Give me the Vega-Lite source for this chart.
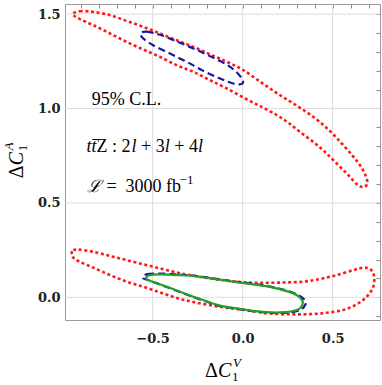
{
"$schema": "https://vega.github.io/schema/vega-lite/v6.json",
"width": 315, "height": 316,
"autosize": "none",
"padding": {"left": 65, "top": 4, "right": 2, "bottom": 65},
"config": {"view": {"stroke": "#9a9a9a", "strokeWidth": 1}, "font": "Liberation Serif",
"axis": {"domain": false, "gridColor": "#dcdcdc", "gridWidth": 1, "gridOpacity": 1, "tickColor": "#8c8c8c", "tickWidth": 1, "labelFont": "DejaVu Serif", "labelFontWeight": "bold", "labelFontSize": 13, "labelColor": "#222222"}},
"datasets": {
"gx": [{"v": -0.5}, {"v": 0}, {"v": 0.5}],
"gy": [{"v": 0}, {"v": 0.5}, {"v": 1}, {"v": 1.5}],
"c": [
{"s":"s1","k":"r1","i":1,"x":-0.944,"y":1.499},{"s":"s1","k":"r1","i":2,"x":-0.904,"y":1.515},{"s":"s1","k":"r1","i":3,"x":-0.830,"y":1.511},{"s":"s1","k":"r1","i":4,"x":-0.737,"y":1.494},{"s":"s1","k":"r1","i":5,"x":-0.644,"y":1.463},{"s":"s1","k":"r1","i":6,"x":-0.552,"y":1.432},{"s":"s1","k":"r1","i":7,"x":-0.459,"y":1.397},{"s":"s1","k":"r1","i":8,"x":-0.367,"y":1.361},{"s":"s1","k":"r1","i":9,"x":-0.274,"y":1.326},{"s":"s1","k":"r1","i":10,"x":-0.182,"y":1.287},{"s":"s1","k":"r1","i":11,"x":-0.089,"y":1.248},{"s":"s1","k":"r1","i":12,"x":0.000,"y":1.205},{"s":"s1","k":"r1","i":13,"x":0.100,"y":1.140},{"s":"s1","k":"r1","i":14,"x":0.200,"y":1.075},{"s":"s1","k":"r1","i":15,"x":0.300,"y":1.015},{"s":"s1","k":"r1","i":16,"x":0.400,"y":0.950},{"s":"s1","k":"r1","i":17,"x":0.480,"y":0.885},{"s":"s1","k":"r1","i":18,"x":0.550,"y":0.815},{"s":"s1","k":"r1","i":19,"x":0.610,"y":0.750},{"s":"s1","k":"r1","i":20,"x":0.655,"y":0.695},{"s":"s1","k":"r1","i":21,"x":0.683,"y":0.645},{"s":"s1","k":"r1","i":22,"x":0.693,"y":0.605},{"s":"s1","k":"r1","i":23,"x":0.675,"y":0.585},{"s":"s1","k":"r1","i":24,"x":0.640,"y":0.594},{"s":"s1","k":"r1","i":25,"x":0.587,"y":0.647},{"s":"s1","k":"r1","i":26,"x":0.522,"y":0.709},{"s":"s1","k":"r1","i":27,"x":0.457,"y":0.770},{"s":"s1","k":"r1","i":28,"x":0.392,"y":0.823},{"s":"s1","k":"r1","i":29,"x":0.318,"y":0.876},{"s":"s1","k":"r1","i":30,"x":0.253,"y":0.925},{"s":"s1","k":"r1","i":31,"x":0.189,"y":0.965},{"s":"s1","k":"r1","i":32,"x":0.106,"y":1.008},{"s":"s1","k":"r1","i":33,"x":0.013,"y":1.053},{"s":"s1","k":"r1","i":34,"x":-0.089,"y":1.106},{"s":"s1","k":"r1","i":35,"x":-0.182,"y":1.150},{"s":"s1","k":"r1","i":36,"x":-0.274,"y":1.194},{"s":"s1","k":"r1","i":37,"x":-0.367,"y":1.229},{"s":"s1","k":"r1","i":38,"x":-0.459,"y":1.273},{"s":"s1","k":"r1","i":39,"x":-0.552,"y":1.312},{"s":"s1","k":"r1","i":40,"x":-0.644,"y":1.352},{"s":"s1","k":"r1","i":41,"x":-0.737,"y":1.397},{"s":"s1","k":"r1","i":42,"x":-0.830,"y":1.441},{"s":"s1","k":"r1","i":43,"x":-0.904,"y":1.473},
{"s":"s1","k":"r2","i":1,"x":-0.950,"y":0.233},{"s":"s1","k":"r2","i":2,"x":-0.941,"y":0.250},{"s":"s1","k":"r2","i":3,"x":-0.904,"y":0.252},{"s":"s1","k":"r2","i":4,"x":-0.830,"y":0.241},{"s":"s1","k":"r2","i":5,"x":-0.737,"y":0.219},{"s":"s1","k":"r2","i":6,"x":-0.644,"y":0.197},{"s":"s1","k":"r2","i":7,"x":-0.552,"y":0.175},{"s":"s1","k":"r2","i":8,"x":-0.459,"y":0.153},{"s":"s1","k":"r2","i":9,"x":-0.367,"y":0.132},{"s":"s1","k":"r2","i":10,"x":-0.274,"y":0.114},{"s":"s1","k":"r2","i":11,"x":-0.126,"y":0.093},{"s":"s1","k":"r2","i":12,"x":-0.033,"y":0.083},{"s":"s1","k":"r2","i":13,"x":0.059,"y":0.077},{"s":"s1","k":"r2","i":14,"x":0.152,"y":0.077},{"s":"s1","k":"r2","i":15,"x":0.244,"y":0.079},{"s":"s1","k":"r2","i":16,"x":0.337,"y":0.083},{"s":"s1","k":"r2","i":17,"x":0.429,"y":0.097},{"s":"s1","k":"r2","i":18,"x":0.522,"y":0.118},{"s":"s1","k":"r2","i":19,"x":0.614,"y":0.144},{"s":"s1","k":"r2","i":20,"x":0.670,"y":0.157},{"s":"s1","k":"r2","i":21,"x":0.707,"y":0.150},{"s":"s1","k":"r2","i":22,"x":0.729,"y":0.118},{"s":"s1","k":"r2","i":23,"x":0.726,"y":0.056},{"s":"s1","k":"r2","i":24,"x":0.689,"y":0.003},{"s":"s1","k":"r2","i":25,"x":0.633,"y":-0.037},{"s":"s1","k":"r2","i":26,"x":0.559,"y":-0.067},{"s":"s1","k":"r2","i":27,"x":0.467,"y":-0.082},{"s":"s1","k":"r2","i":28,"x":0.374,"y":-0.089},{"s":"s1","k":"r2","i":29,"x":0.272,"y":-0.090},{"s":"s1","k":"r2","i":30,"x":0.152,"y":-0.086},{"s":"s1","k":"r2","i":31,"x":0.059,"y":-0.073},{"s":"s1","k":"r2","i":32,"x":-0.033,"y":-0.062},{"s":"s1","k":"r2","i":33,"x":-0.126,"y":-0.050},{"s":"s1","k":"r2","i":34,"x":-0.274,"y":-0.025},{"s":"s1","k":"r2","i":35,"x":-0.367,"y":-0.003},{"s":"s1","k":"r2","i":36,"x":-0.459,"y":0.026},{"s":"s1","k":"r2","i":37,"x":-0.552,"y":0.056},{"s":"s1","k":"r2","i":38,"x":-0.644,"y":0.083},{"s":"s1","k":"r2","i":39,"x":-0.737,"y":0.118},{"s":"s1","k":"r2","i":40,"x":-0.830,"y":0.157},{"s":"s1","k":"r2","i":41,"x":-0.904,"y":0.188},{"s":"s1","k":"r2","i":42,"x":-0.941,"y":0.210},
{"s":"s2","k":"b1","i":1,"x":-0.567,"y":1.397},{"s":"s2","k":"b1","i":2,"x":-0.533,"y":1.407},{"s":"s2","k":"b1","i":3,"x":-0.459,"y":1.390},{"s":"s2","k":"b1","i":4,"x":-0.367,"y":1.355},{"s":"s2","k":"b1","i":5,"x":-0.274,"y":1.318},{"s":"s2","k":"b1","i":6,"x":-0.182,"y":1.277},{"s":"s2","k":"b1","i":7,"x":-0.089,"y":1.232},{"s":"s2","k":"b1","i":8,"x":-0.033,"y":1.192},{"s":"s2","k":"b1","i":9,"x":0.000,"y":1.150},{"s":"s2","k":"b1","i":10,"x":-0.006,"y":1.129},{"s":"s2","k":"b1","i":11,"x":-0.052,"y":1.132},{"s":"s2","k":"b1","i":12,"x":-0.126,"y":1.159},{"s":"s2","k":"b1","i":13,"x":-0.219,"y":1.199},{"s":"s2","k":"b1","i":14,"x":-0.311,"y":1.247},{"s":"s2","k":"b1","i":15,"x":-0.404,"y":1.291},{"s":"s2","k":"b1","i":16,"x":-0.497,"y":1.335},{"s":"s2","k":"b1","i":17,"x":-0.552,"y":1.370},
{"s":"s2","k":"b2","i":1,"x":-0.556,"y":0.104},{"s":"s2","k":"b2","i":2,"x":-0.530,"y":0.123},{"s":"s2","k":"b2","i":3,"x":-0.459,"y":0.126},{"s":"s2","k":"b2","i":4,"x":-0.367,"y":0.121},{"s":"s2","k":"b2","i":5,"x":-0.274,"y":0.115},{"s":"s2","k":"b2","i":6,"x":-0.126,"y":0.095},{"s":"s2","k":"b2","i":7,"x":-0.033,"y":0.082},{"s":"s2","k":"b2","i":8,"x":0.059,"y":0.071},{"s":"s2","k":"b2","i":9,"x":0.152,"y":0.057},{"s":"s2","k":"b2","i":10,"x":0.244,"y":0.036},{"s":"s2","k":"b2","i":11,"x":0.310,"y":0.012},{"s":"s2","k":"b2","i":12,"x":0.345,"y":-0.015},{"s":"s2","k":"b2","i":13,"x":0.350,"y":-0.035},{"s":"s2","k":"b2","i":14,"x":0.320,"y":-0.067},{"s":"s2","k":"b2","i":15,"x":0.244,"y":-0.081},{"s":"s2","k":"b2","i":16,"x":0.152,"y":-0.082},{"s":"s2","k":"b2","i":17,"x":0.059,"y":-0.074},{"s":"s2","k":"b2","i":18,"x":-0.033,"y":-0.060},{"s":"s2","k":"b2","i":19,"x":-0.126,"y":-0.046},{"s":"s2","k":"b2","i":20,"x":-0.237,"y":-0.011},{"s":"s2","k":"b2","i":21,"x":-0.348,"y":0.028},{"s":"s2","k":"b2","i":22,"x":-0.459,"y":0.068},{"s":"s2","k":"b2","i":23,"x":-0.530,"y":0.093},
{"s":"s3","k":"g1","i":1,"x":-0.537,"y":0.100},{"s":"s3","k":"g1","i":2,"x":-0.515,"y":0.118},{"s":"s3","k":"g1","i":3,"x":-0.459,"y":0.122},{"s":"s3","k":"g1","i":4,"x":-0.367,"y":0.118},{"s":"s3","k":"g1","i":5,"x":-0.274,"y":0.113},{"s":"s3","k":"g1","i":6,"x":-0.126,"y":0.093},{"s":"s3","k":"g1","i":7,"x":-0.033,"y":0.080},{"s":"s3","k":"g1","i":8,"x":0.059,"y":0.069},{"s":"s3","k":"g1","i":9,"x":0.152,"y":0.055},{"s":"s3","k":"g1","i":10,"x":0.244,"y":0.033},{"s":"s3","k":"g1","i":11,"x":0.300,"y":0.012},{"s":"s3","k":"g1","i":12,"x":0.330,"y":-0.015},{"s":"s3","k":"g1","i":13,"x":0.333,"y":-0.037},{"s":"s3","k":"g1","i":14,"x":0.309,"y":-0.065},{"s":"s3","k":"g1","i":15,"x":0.244,"y":-0.078},{"s":"s3","k":"g1","i":16,"x":0.152,"y":-0.080},{"s":"s3","k":"g1","i":17,"x":0.059,"y":-0.072},{"s":"s3","k":"g1","i":18,"x":-0.033,"y":-0.058},{"s":"s3","k":"g1","i":19,"x":-0.126,"y":-0.044},{"s":"s3","k":"g1","i":20,"x":-0.237,"y":-0.009},{"s":"s3","k":"g1","i":21,"x":-0.348,"y":0.030},{"s":"s3","k":"g1","i":22,"x":-0.459,"y":0.069},{"s":"s3","k":"g1","i":23,"x":-0.515,"y":0.088}
]
},
"layer": [
{
"data": {"name": "gx"},
"mark": {"type": "rule", "color": "#dcdcdc", "strokeWidth": 1},
"encoding": {"x": {"field": "v", "type": "quantitative", "title": null, "scale": {"domain": [-0.987, 0.763], "nice": false, "zero": false}, "axis": null}}
},
{
"data": {"name": "gy"},
"mark": {"type": "rule", "color": "#dcdcdc", "strokeWidth": 1},
"encoding": {"y": {"field": "v", "type": "quantitative", "title": null, "scale": {"domain": [-0.12, 1.553], "nice": false, "zero": false}, "axis": null}}
},
{
"data": {"name": "c"},
"transform": [{"filter": {"field": "s", "equal": "s1"}}],
"mark": {"type": "line", "interpolate": "cardinal-closed", "color": "#ff1a1a", "strokeWidth": 2.6, "strokeDash": [3, 2.6]},
"encoding": {
"x": {"field": "x", "type": "quantitative", "title": null, "scale": {"domain": [-0.987, 0.763], "nice": false, "zero": false},
"axis": {"orient": "bottom", "values": [-0.5, 0, 0.5], "format": ".1f", "grid": false, "ticks": false, "labelPadding": 12}},
"y": {"field": "y", "type": "quantitative", "title": null, "scale": {"domain": [-0.12, 1.553], "nice": false, "zero": false},
"axis": {"orient": "left", "values": [0, 0.5, 1, 1.5], "format": ".1f", "grid": false, "ticks": false, "labelPadding": 5}},
"detail": {"field": "k"},
"order": {"field": "i", "type": "quantitative"}
}
},
{
"data": {"name": "c"},
"transform": [{"filter": {"field": "s", "equal": "s2"}}],
"mark": {"type": "line", "interpolate": "cardinal-closed", "color": "#1616a0", "strokeWidth": 2.2, "strokeDash": [7, 4]},
"encoding": {
"x": {"field": "x", "type": "quantitative", "title": null, "scale": {"domain": [-0.987, 0.763], "nice": false, "zero": false},
"axis": {"orient": "top", "values": [-0.9,-0.8,-0.7,-0.6,-0.5,-0.4,-0.3,-0.2,-0.1,0,0.1,0.2,0.3,0.4,0.5,0.6,0.7], "labels": false, "grid": false, "tickSize": -4}},
"y": {"field": "y", "type": "quantitative", "title": null, "scale": {"domain": [-0.12, 1.553], "nice": false, "zero": false},
"axis": {"orient": "right", "values": [-0.1,0,0.1,0.2,0.3,0.4,0.5,0.6,0.7,0.8,0.9,1,1.1,1.2,1.3,1.4,1.5], "labels": false, "grid": false, "tickSize": -4}},
"detail": {"field": "k"},
"order": {"field": "i", "type": "quantitative"}
}
},
{
"data": {"name": "c"},
"transform": [{"filter": {"field": "s", "equal": "s3"}}],
"mark": {"type": "line", "interpolate": "cardinal-closed", "color": "#22a022", "strokeWidth": 2.2},
"encoding": {
"x": {"field": "x", "type": "quantitative", "title": null, "scale": {"domain": [-0.987, 0.763], "nice": false, "zero": false}, "axis": null},
"y": {"field": "y", "type": "quantitative", "title": null, "scale": {"domain": [-0.12, 1.553], "nice": false, "zero": false}, "axis": null},
"detail": {"field": "k"},
"order": {"field": "i", "type": "quantitative"}
}
},
{"data": {"values": [{"t": "95% C.L."}]}, "mark": {"type": "text", "font": "Liberation Serif", "fontSize": 18, "align": "left", "baseline": "alphabetic", "color": "#000000"},
"encoding": {"x": {"datum": -0.839, "type": "quantitative", "axis": null}, "y": {"datum": 1.017, "type": "quantitative", "axis": null}, "text": {"field": "t"}}},
{"data": {"values": [{"t": "tt̄"}]}, "mark": {"type": "text", "font": "Liberation Serif", "fontStyle": "italic", "fontSize": 18, "align": "left", "baseline": "alphabetic", "color": "#000000", "dx": 0},
"encoding": {"x": {"datum": -0.867, "type": "quantitative", "axis": null}, "y": {"datum": 0.770, "type": "quantitative", "axis": null}, "text": {"field": "t"}}},
{"data": {"values": [{"t": "Z : 2"}]}, "mark": {"type": "text", "font": "Liberation Serif", "fontSize": 18, "align": "left", "baseline": "alphabetic", "color": "#000000", "dx": 10},
"encoding": {"x": {"datum": -0.867, "type": "quantitative", "axis": null}, "y": {"datum": 0.770, "type": "quantitative", "axis": null}, "text": {"field": "t"}}},
{"data": {"values": [{"t": "l"}]}, "mark": {"type": "text", "font": "Liberation Serif", "fontStyle": "italic", "fontSize": 18, "align": "left", "baseline": "alphabetic", "color": "#000000", "dx": 45},
"encoding": {"x": {"datum": -0.867, "type": "quantitative", "axis": null}, "y": {"datum": 0.770, "type": "quantitative", "axis": null}, "text": {"field": "t"}}},
{"data": {"values": [{"t": "+ 3"}]}, "mark": {"type": "text", "font": "Liberation Serif", "fontSize": 18, "align": "left", "baseline": "alphabetic", "color": "#000000", "dx": 54.5},
"encoding": {"x": {"datum": -0.867, "type": "quantitative", "axis": null}, "y": {"datum": 0.770, "type": "quantitative", "axis": null}, "text": {"field": "t"}}},
{"data": {"values": [{"t": "l"}]}, "mark": {"type": "text", "font": "Liberation Serif", "fontStyle": "italic", "fontSize": 18, "align": "left", "baseline": "alphabetic", "color": "#000000", "dx": 78.2},
"encoding": {"x": {"datum": -0.867, "type": "quantitative", "axis": null}, "y": {"datum": 0.770, "type": "quantitative", "axis": null}, "text": {"field": "t"}}},
{"data": {"values": [{"t": "+ 4"}]}, "mark": {"type": "text", "font": "Liberation Serif", "fontSize": 18, "align": "left", "baseline": "alphabetic", "color": "#000000", "dx": 87.7},
"encoding": {"x": {"datum": -0.867, "type": "quantitative", "axis": null}, "y": {"datum": 0.770, "type": "quantitative", "axis": null}, "text": {"field": "t"}}},
{"data": {"values": [{"t": "l"}]}, "mark": {"type": "text", "font": "Liberation Serif", "fontStyle": "italic", "fontSize": 18, "align": "left", "baseline": "alphabetic", "color": "#000000", "dx": 111.4},
"encoding": {"x": {"datum": -0.867, "type": "quantitative", "axis": null}, "y": {"datum": 0.770, "type": "quantitative", "axis": null}, "text": {"field": "t"}}},
{"data": {"values": [{"t": "ℒ"}]}, "mark": {"type": "text", "font": "DejaVu Serif", "fontStyle": "italic", "fontSize": 17, "align": "left", "baseline": "alphabetic", "color": "#000000", "dx": 0},
"encoding": {"x": {"datum": -0.867, "type": "quantitative", "axis": null}, "y": {"datum": 0.559, "type": "quantitative", "axis": null}, "text": {"field": "t"}}},
{"data": {"values": [{"t": "="}]}, "mark": {"type": "text", "font": "Liberation Serif", "fontSize": 18, "align": "left", "baseline": "alphabetic", "color": "#000000", "dx": 20},
"encoding": {"x": {"datum": -0.867, "type": "quantitative", "axis": null}, "y": {"datum": 0.559, "type": "quantitative", "axis": null}, "text": {"field": "t"}}},
{"data": {"values": [{"t": "3000 fb"}]}, "mark": {"type": "text", "font": "Liberation Serif", "fontSize": 18, "align": "left", "baseline": "alphabetic", "color": "#000000", "dx": 39},
"encoding": {"x": {"datum": -0.867, "type": "quantitative", "axis": null}, "y": {"datum": 0.559, "type": "quantitative", "axis": null}, "text": {"field": "t"}}},
{"data": {"values": [{"t": "−1"}]}, "mark": {"type": "text", "font": "Liberation Serif", "fontSize": 13, "align": "left", "baseline": "alphabetic", "color": "#000000", "dx": 93, "dy": -8},
"encoding": {"x": {"datum": -0.867, "type": "quantitative", "axis": null}, "y": {"datum": 0.559, "type": "quantitative", "axis": null}, "text": {"field": "t"}}},
{"data": {"values": [{"t": "Δ"}]}, "mark": {"type": "text", "font": "Liberation Serif", "fontSize": 20, "align": "left", "baseline": "alphabetic", "color": "#000000", "dx": 0},
"encoding": {"x": {"datum": -0.209, "type": "quantitative", "axis": null}, "y": {"datum": -0.422, "type": "quantitative", "axis": null}, "text": {"field": "t"}}},
{"data": {"values": [{"t": "C"}]}, "mark": {"type": "text", "font": "Liberation Serif", "fontStyle": "italic", "fontSize": 20, "align": "left", "baseline": "alphabetic", "color": "#000000", "dx": 13},
"encoding": {"x": {"datum": -0.209, "type": "quantitative", "axis": null}, "y": {"datum": -0.422, "type": "quantitative", "axis": null}, "text": {"field": "t"}}},
{"data": {"values": [{"t": "V"}]}, "mark": {"type": "text", "font": "Liberation Serif", "fontStyle": "italic", "fontSize": 13, "align": "left", "baseline": "alphabetic", "color": "#000000", "dx": 28, "dy": -10},
"encoding": {"x": {"datum": -0.209, "type": "quantitative", "axis": null}, "y": {"datum": -0.422, "type": "quantitative", "axis": null}, "text": {"field": "t"}}},
{"data": {"values": [{"t": "1"}]}, "mark": {"type": "text", "font": "Liberation Serif", "fontSize": 13, "align": "left", "baseline": "alphabetic", "color": "#000000", "dx": 27, "dy": 4},
"encoding": {"x": {"datum": -0.209, "type": "quantitative", "axis": null}, "y": {"datum": -0.422, "type": "quantitative", "axis": null}, "text": {"field": "t"}}},
{"data": {"values": [{"t": "Δ"}]}, "mark": {"type": "text", "font": "Liberation Serif", "fontSize": 20, "align": "left", "baseline": "alphabetic", "color": "#000000", "angle": 270, "dx": 0},
"encoding": {"x": {"datum": -1.221, "type": "quantitative", "axis": null}, "y": {"datum": 0.631, "type": "quantitative", "axis": null}, "text": {"field": "t"}}},
{"data": {"values": [{"t": "C"}]}, "mark": {"type": "text", "font": "Liberation Serif", "fontStyle": "italic", "fontSize": 20, "align": "left", "baseline": "alphabetic", "color": "#000000", "angle": 270, "dx": 13},
"encoding": {"x": {"datum": -1.221, "type": "quantitative", "axis": null}, "y": {"datum": 0.631, "type": "quantitative", "axis": null}, "text": {"field": "t"}}},
{"data": {"values": [{"t": "A"}]}, "mark": {"type": "text", "font": "Liberation Serif", "fontStyle": "italic", "fontSize": 13, "align": "left", "baseline": "alphabetic", "color": "#000000", "angle": 270, "dx": 28, "dy": -10},
"encoding": {"x": {"datum": -1.221, "type": "quantitative", "axis": null}, "y": {"datum": 0.631, "type": "quantitative", "axis": null}, "text": {"field": "t"}}},
{"data": {"values": [{"t": "1"}]}, "mark": {"type": "text", "font": "Liberation Serif", "fontSize": 13, "align": "left", "baseline": "alphabetic", "color": "#000000", "angle": 270, "dx": 27, "dy": 4},
"encoding": {"x": {"datum": -1.221, "type": "quantitative", "axis": null}, "y": {"datum": 0.631, "type": "quantitative", "axis": null}, "text": {"field": "t"}}}
],
"resolve": {"axis": {"x": "independent", "y": "independent"}}
}
